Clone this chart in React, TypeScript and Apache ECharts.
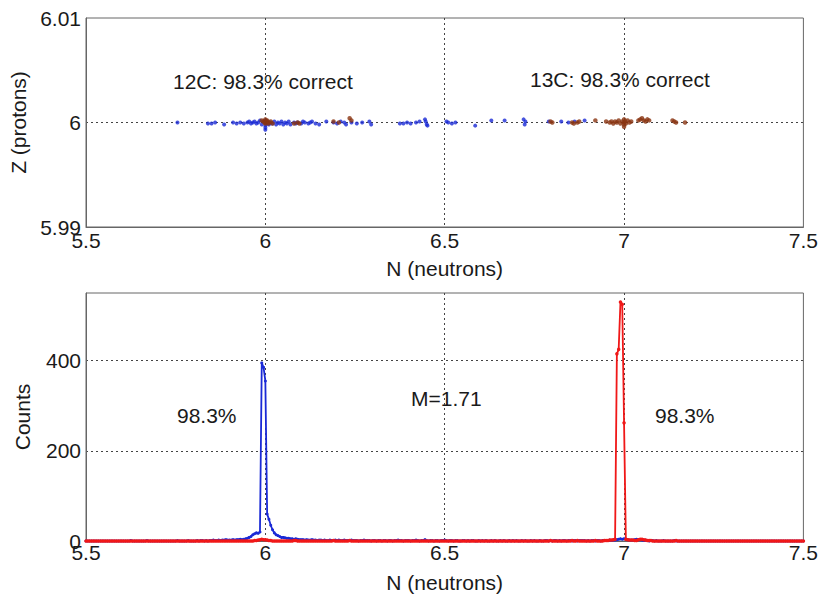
import React, { useEffect, useRef } from "react";
import * as echarts from "echarts";

// ---------- Top panel: scatter of identified events (N, Z) ----------
const blueEvents: number[][] = [
  [5.755, 6.0], [5.84, 5.9999], [5.85, 5.9999], [5.86, 6.0], [5.885, 5.9998],
  [5.91, 6.0], [5.92, 5.9999], [5.93, 6.0], [5.94, 5.9999], [5.95, 6.0],
  [5.955, 6.0001], [5.96, 5.9999], [5.965, 6.0], [5.97, 6.0001], [5.975, 5.9999],
  [5.98, 6.0], [5.985, 6.0002], [5.99, 5.9998], [5.995, 6.0001], [6.0, 5.9997],
  [6.0, 5.9995], [6.0, 5.9993], [6.0, 6.0002], [6.002, 5.9999], [6.005, 6.0001],
  [6.01, 5.9998], [6.015, 6.0], [6.02, 5.9999], [6.025, 6.0001], [6.03, 5.9998],
  [6.035, 6.0], [6.04, 5.9999], [6.045, 6.0001], [6.05, 5.9998], [6.055, 6.0],
  [6.06, 5.9999], [6.065, 6.0001], [6.07, 5.9998], [6.08, 6.0], [6.085, 5.9999],
  [6.09, 6.0], [6.1, 5.9999], [6.105, 6.0001], [6.11, 6.0], [6.12, 5.9999],
  [6.125, 6.0], [6.13, 6.0001], [6.14, 5.9999], [6.15, 5.9998], [6.17, 6.0001],
  [6.19, 6.0], [6.2, 5.9999], [6.21, 6.0001], [6.22, 6.0], [6.225, 5.9998],
  [6.24, 6.0], [6.255, 5.9999], [6.27, 6.0], [6.29, 6.0001], [6.295, 5.9998],
  [6.375, 5.9999], [6.385, 5.9999], [6.395, 6.0], [6.405, 5.9999], [6.42, 6.0],
  [6.43, 6.0001], [6.445, 6.0003], [6.447, 6.0001], [6.45, 5.9998], [6.452, 5.9997],
  [6.505, 6.0001], [6.51, 6.0], [6.52, 5.9999], [6.53, 6.0], [6.585, 5.9997],
  [6.63, 6.0002], [6.667, 6.0002], [6.72, 6.0003], [6.725, 6.0001], [6.723, 5.9998],
  [6.79, 6.0001], [6.825, 6.0001], [6.845, 6.0], [6.862, 6.0001], [6.89, 6.0002],
];

const brownEvents: number[][] = [
  [5.99, 6.0002], [5.995, 6.0001], [5.998, 6.0], [6.0, 6.0003], [6.0, 5.9999],
  [6.003, 6.0001], [6.005, 6.0002], [6.008, 5.9999], [6.01, 6.0], [6.015, 6.0001],
  [6.02, 5.9999], [6.08, 5.9999], [6.09, 6.0], [6.095, 5.9999], [6.19, 6.0001],
  [6.205, 6.0], [6.235, 6.0004], [6.24, 6.0002], [6.795, 6.0001], [6.8, 6.0],
  [6.855, 6.0], [6.86, 5.9999], [6.87, 6.0], [6.875, 6.0001], [6.92, 6.0002],
  [6.95, 6.0001], [6.96, 6.0], [6.965, 6.0001], [6.97, 5.9999], [6.975, 6.0001],
  [6.98, 6.0], [6.985, 6.0002], [6.99, 5.9999], [6.995, 6.0001], [7.0, 6.0],
  [7.0, 5.9998], [7.0, 5.9996], [7.0, 6.0003], [7.003, 6.0001], [7.005, 5.9999],
  [7.01, 6.0002], [7.015, 6.0], [7.02, 6.0001], [7.04, 6.0002], [7.045, 6.0003],
  [7.05, 6.0004], [7.055, 6.0002], [7.06, 6.0001], [7.065, 6.0003], [7.07, 6.0002],
  [7.135, 6.0002], [7.14, 6.0001], [7.145, 6.0], [7.17, 6.0],
];

// ---------- Bottom panel: histogram counts, bins of 0.005 from 5.5 to 7.5 ----------
const binStart = 5.5;
const binWidth = 0.005;

const blueCounts: number[] = [
  // 5.5 - 5.6
  0, 0, 0, 0, 0, 0, 0, 0, 0, 0, 0, 0, 0, 0, 0, 0, 0, 0, 0, 0,
  // 5.6 - 5.7
  0, 0, 0, 0, 0, 1, 0, 0, 0, 0, 0, 0, 0, 0, 1, 0, 0, 0, 0, 0,
  // 5.7 - 5.8
  0, 0, 0, 0, 0, 0, 0, 0, 0, 0, 0, 1, 0, 0, 0, 0, 0, 1, 0, 0,
  // 5.8 - 5.9
  0, 0, 1, 0, 1, 1, 0, 1, 0, 1, 1, 2, 1, 1, 2, 1, 2, 2, 3, 2,
  // 5.9 - 6.0
  2, 2, 3, 2, 3, 3, 4, 3, 4, 5, 6, 8, 10, 14, 16, 18, 17, 20, 395, 385,
  // 6.0 - 6.1
  355, 60, 48, 35, 25, 18, 14, 12, 10, 8, 8, 7, 6, 6, 5, 5, 4, 5, 4, 3,
  // 6.1 - 6.2
  3, 3, 2, 3, 2, 2, 3, 2, 2, 1, 2, 2, 1, 2, 1, 1, 2, 1, 1, 2,
  // 6.2 - 6.3
  1, 2, 1, 1, 2, 1, 1, 1, 2, 1, 1, 1, 0, 1, 1, 2, 1, 1, 1, 0,
  // 6.3 - 6.4
  1, 1, 0, 1, 1, 0, 1, 1, 0, 1, 1, 0, 1, 1, 2, 1, 1, 0, 1, 1,
  // 6.4 - 6.5
  1, 0, 1, 1, 2, 1, 0, 1, 1, 3, 1, 0, 1, 1, 0, 1, 1, 0, 1, 1,
  // 6.5 - 6.6
  2, 1, 0, 1, 1, 0, 1, 1, 0, 0, 1, 1, 0, 1, 0, 1, 1, 0, 0, 1,
  // 6.6 - 6.7
  0, 1, 0, 1, 0, 0, 1, 0, 1, 0, 0, 1, 0, 1, 0, 0, 1, 0, 1, 0,
  // 6.7 - 6.8
  1, 0, 0, 1, 0, 1, 0, 0, 1, 0, 1, 0, 0, 1, 0, 0, 1, 1, 0, 1,
  // 6.8 - 6.9
  0, 1, 1, 0, 1, 0, 1, 1, 0, 1, 1, 0, 1, 1, 0, 1, 1, 1, 1, 0,
  // 6.9 - 7.0
  1, 0, 1, 1, 0, 1, 1, 0, 1, 1, 1, 1, 2, 1, 2, 2, 3, 4, 5, 4,
  // 7.0 - 7.1
  5, 4, 3, 2, 2, 2, 3, 4, 3, 3, 2, 1, 2, 1, 0, 1, 1, 0, 1, 0,
  // 7.1 - 7.2
  0, 0, 1, 0, 0, 0, 0, 0, 1, 0, 0, 0, 0, 0, 0, 0, 0, 0, 0, 0,
  // 7.2 - 7.3
  0, 0, 0, 0, 0, 0, 0, 0, 0, 0, 0, 0, 0, 0, 0, 0, 0, 0, 0, 0,
  // 7.3 - 7.4
  0, 0, 0, 0, 0, 0, 0, 0, 0, 0, 0, 0, 0, 0, 0, 0, 0, 0, 0, 0,
  // 7.4 - 7.5
  0, 0, 0, 0, 0, 0, 0, 0, 0, 0, 0, 0, 0, 0, 0, 0, 0, 0, 0, 0,
  // 7.5
  0,
];

const redCounts: number[] = [
  // 5.5 - 5.6
  0, 0, 0, 0, 0, 0, 0, 0, 0, 0, 0, 0, 0, 0, 0, 0, 0, 0, 0, 0,
  // 5.6 - 5.7
  0, 0, 0, 0, 0, 0, 0, 0, 0, 0, 0, 0, 0, 0, 0, 0, 0, 0, 0, 0,
  // 5.7 - 5.8
  0, 0, 0, 0, 0, 0, 0, 0, 0, 0, 0, 0, 0, 0, 0, 0, 0, 0, 0, 0,
  // 5.8 - 5.9
  0, 0, 0, 0, 0, 0, 0, 0, 0, 0, 0, 0, 0, 0, 0, 0, 0, 0, 0, 0,
  // 5.9 - 6.0
  0, 0, 0, 0, 0, 0, 0, 0, 0, 0, 0, 0, 0, 0, 1, 1, 2, 3, 4, 3,
  // 6.0 - 6.1
  3, 2, 1, 1, 0, 0, 0, 0, 0, 0, 0, 0, 0, 0, 0, 0, 1, 1, 0, 0,
  // 6.1 - 6.2
  0, 0, 0, 0, 0, 0, 0, 0, 0, 0, 0, 0, 0, 0, 0, 0, 0, 0, 1, 0,
  // 6.2 - 6.3
  0, 0, 0, 0, 0, 0, 0, 1, 0, 0, 0, 0, 0, 0, 0, 0, 0, 0, 0, 0,
  // 6.3 - 6.4
  0, 0, 0, 0, 0, 0, 0, 0, 0, 0, 0, 0, 0, 0, 0, 0, 0, 0, 0, 0,
  // 6.4 - 6.5
  0, 0, 0, 0, 0, 0, 0, 0, 0, 0, 0, 0, 0, 0, 0, 0, 0, 0, 0, 0,
  // 6.5 - 6.6
  0, 0, 0, 0, 0, 0, 0, 0, 0, 0, 0, 0, 0, 0, 0, 0, 0, 0, 0, 0,
  // 6.6 - 6.7
  0, 0, 0, 0, 0, 0, 0, 0, 0, 0, 0, 0, 0, 0, 0, 0, 0, 0, 0, 0,
  // 6.7 - 6.8
  0, 0, 0, 0, 0, 0, 0, 0, 0, 0, 0, 0, 0, 0, 0, 0, 0, 0, 0, 1,
  // 6.8 - 6.9
  0, 0, 0, 0, 0, 0, 0, 0, 0, 0, 0, 1, 0, 0, 1, 0, 0, 0, 0, 0,
  // 6.9 - 7.0
  0, 0, 0, 0, 1, 0, 0, 0, 0, 1, 1, 1, 2, 2, 3, 4, 415, 425, 530, 525,
  // 7.0 - 7.1
  262, 4, 3, 2, 2, 2, 1, 1, 3, 4, 4, 3, 2, 1, 1, 1, 0, 0, 0, 0,
  // 7.1 - 7.2
  0, 0, 0, 0, 0, 0, 0, 0, 0, 1, 0, 0, 0, 0, 0, 0, 0, 0, 0, 0,
  // 7.2 - 7.3
  0, 0, 0, 0, 0, 0, 0, 0, 0, 0, 0, 0, 0, 0, 0, 0, 0, 0, 0, 0,
  // 7.3 - 7.4
  0, 0, 0, 0, 0, 0, 0, 0, 0, 0, 0, 0, 0, 0, 0, 0, 0, 0, 0, 0,
  // 7.4 - 7.5
  0, 0, 0, 0, 0, 0, 0, 0, 0, 0, 0, 0, 0, 0, 0, 0, 0, 0, 0, 0,
  // 7.5
  0,
];

const xTicks = { min: 5.5, max: 7.5, interval: 0.5 };
const topY = { min: 5.99, max: 6.01, interval: 0.01 };
const bottomY = { min: 0, max: 550, interval: 200 };

const annotations = {
  top12C: "12C: 98.3% correct",
  top13C: "13C: 98.3% correct",
  bottomLeft: "98.3%",
  bottomMid: "M=1.71",
  bottomRight: "98.3%",
};

const FONT = "'Liberation Sans', Arial, sans-serif";
const TXT = "#1a1a1a";
const FS = 21;

function toXY(counts: number[]): number[][] {
  return counts.map((c, i) => [+(binStart + i * binWidth).toFixed(3), c]);
}

function fmtNum(v: number): string {
  return String(parseFloat(v.toFixed(3)));
}

export default function App() {
  const ref = useRef<HTMLDivElement>(null);

  useEffect(() => {
    if (!ref.current) return;
    const chart = echarts.init(ref.current, null, { renderer: "svg" });

    const gridLine = { show: true, showMinLine: false, showMaxLine: false, lineStyle: { color: "#444", type: [2, 3] as any, width: 1 } };
    const axisLine = { show: true, lineStyle: { color: "#666", width: 1 } };
    const axisLabel = (margin: number) => ({
      color: TXT, fontSize: FS, fontFamily: FONT, margin, formatter: (v: number) => fmtNum(v),
    });
    const nameStyle = { color: TXT, fontSize: FS, fontFamily: FONT };

    const xAxisCommon = (gridIndex: number, margin: number) => ({
      type: "value",
      gridIndex,
      min: xTicks.min,
      max: xTicks.max,
      interval: xTicks.interval,
      axisLine,
      axisTick: { show: false },
      axisLabel: axisLabel(margin),
      splitLine: gridLine,
      name: "N (neutrons)",
      nameLocation: "middle",
      nameGap: 31,
      nameTextStyle: nameStyle,
    });

    chart.setOption({
      animation: false,
      backgroundColor: "#ffffff",
      textStyle: { fontFamily: FONT },
      grid: [
        { left: 86, top: 18, width: 718, height: 209, show: true, borderColor: "#666", borderWidth: 1, backgroundColor: "transparent" },
        { left: 86, top: 293, width: 718, height: 248, show: true, borderColor: "#666", borderWidth: 1, backgroundColor: "transparent" },
      ],
      xAxis: [xAxisCommon(0, 3), xAxisCommon(1, 1)],
      yAxis: [
        {
          type: "value",
          gridIndex: 0,
          min: topY.min,
          max: topY.max,
          interval: topY.interval,
          axisLine,
          axisTick: { show: false },
          axisLabel: { ...axisLabel(5), formatter: (v: number) => fmtNum(v) },
          splitLine: gridLine,
          name: "Z (protons)",
          nameLocation: "middle",
          nameRotate: 90,
          nameGap: 53,
          nameTextStyle: nameStyle,
        },
        {
          type: "value",
          gridIndex: 1,
          min: bottomY.min,
          max: bottomY.max,
          interval: bottomY.interval,
          axisLine,
          axisTick: { show: false },
          axisLabel: { ...axisLabel(5), showMaxLabel: false },
          splitLine: gridLine,
          name: "Counts",
          nameLocation: "middle",
          nameRotate: 90,
          nameGap: 53,
          nameTextStyle: nameStyle,
        },
      ],
      series: [
        {
          type: "scatter",
          xAxisIndex: 0,
          yAxisIndex: 0,
          data: blueEvents,
          symbol: "circle",
          symbolSize: 4,
          itemStyle: { color: "#1a2ad6" },
          silent: true,
        },
        {
          type: "scatter",
          xAxisIndex: 0,
          yAxisIndex: 0,
          data: brownEvents,
          symbol: "circle",
          symbolSize: 4.5,
          itemStyle: { color: "#8a3412" },
          silent: true,
        },
        {
          type: "line",
          xAxisIndex: 1,
          yAxisIndex: 1,
          data: toXY(blueCounts),
          symbol: "circle",
          symbolSize: 3,
          showAllSymbol: true,
          lineStyle: { color: "#1a2ad6", width: 1.8 },
          itemStyle: { color: "#1a2ad6" },
          clip: false,
          silent: true,
        },
        {
          type: "line",
          xAxisIndex: 1,
          yAxisIndex: 1,
          data: toXY(redCounts),
          symbol: "circle",
          symbolSize: 3.5,
          showAllSymbol: true,
          lineStyle: { color: "#f01818", width: 1.8 },
          itemStyle: { color: "#f01818" },
          clip: false,
          silent: true,
        },
      ],
      graphic: [
        { type: "text", left: 173, top: 71, style: { text: annotations.top12C, fill: TXT, font: `${FS}px ${FONT}` } },
        { type: "text", left: 530, top: 69, style: { text: annotations.top13C, fill: TXT, font: `${FS}px ${FONT}` } },
        { type: "text", left: 177, top: 405, style: { text: annotations.bottomLeft, fill: TXT, font: `${FS}px ${FONT}` } },
        { type: "text", left: 411, top: 388, style: { text: annotations.bottomMid, fill: TXT, font: `${FS}px ${FONT}` } },
        { type: "text", left: 655, top: 405, style: { text: annotations.bottomRight, fill: TXT, font: `${FS}px ${FONT}` } },
      ],
    });

    return () => chart.dispose();
  }, []);

  return (
    <div
      ref={ref}
      style={{ position: "fixed", left: 0, top: 0, width: 821, height: 595, background: "#fff" }}
    />
  );
}
